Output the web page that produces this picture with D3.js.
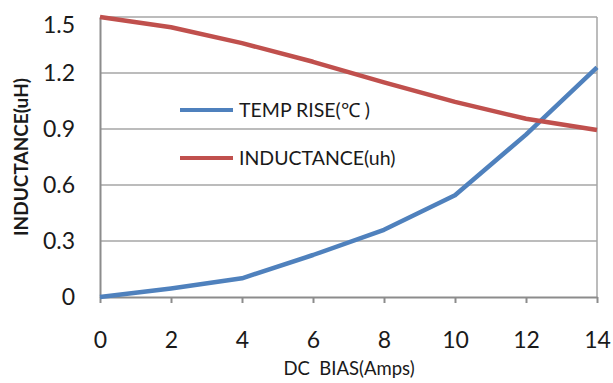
<!DOCTYPE html>
<html>
<head>
<meta charset="utf-8">
<script src="https://cdnjs.cloudflare.com/ajax/libs/d3/7.8.5/d3.min.js"></script>
<style>
  body { margin: 0; background: #fff; }
  text { font-family: Lato, "Open Sans", sans-serif; fill: #1a1a1a; }
</style>
</head>
<body>
<svg width="613" height="383"></svg>
<script>
// chart data
var dcBias = [0, 2, 4, 6, 8, 10, 12, 14];
var tempRise = [0, 0.046, 0.10, 0.225, 0.36, 0.545, 0.87, 1.23];
var inductance = [1.50, 1.445, 1.36, 1.26, 1.15, 1.045, 0.955, 0.895];
var yTicks = [0, 0.3, 0.6, 0.9, 1.2, 1.5];
var xTicks = [0, 2, 4, 6, 8, 10, 12, 14];

var series = [
    { name: "TEMP RISE(\u2103 )", values: tempRise, color: "#4F81BD" },
    { name: "INDUCTANCE(uh)", values: inductance, color: "#C0504D" }
];

var svg = d3.select("svg");

var x = d3.scaleLinear().domain([0, 14]).range([100, 597]);
var y = d3.scaleLinear().domain([0, 1.5]).range([297, 17]);

// horizontal gridlines
svg.append("g")
    .selectAll("line")
    .data(yTicks.slice(1))
    .enter().append("line")
    .attr("x1", x(0))
    .attr("x2", x(14))
    .attr("y1", d => y(d))
    .attr("y2", d => y(d))
    .attr("stroke", "#a6a6a6")
    .attr("stroke-width", 1.5);

// right border
svg.append("line")
    .attr("x1", x(14)).attr("x2", x(14))
    .attr("y1", y(1.5)).attr("y2", y(0))
    .attr("stroke", "#a6a6a6")
    .attr("stroke-width", 1.5);

// x axis
var xAxis = svg.append("g")
    .attr("transform", "translate(0," + y(0) + ")")
    .call(d3.axisBottom(x).tickValues(xTicks).tickSize(6).tickPadding(29).tickSizeOuter(0));
xAxis.select(".domain").attr("stroke", "#8c8c8c").attr("stroke-width", 2);
xAxis.selectAll(".tick line").attr("stroke", "#8c8c8c").attr("stroke-width", 2);
xAxis.selectAll("text").attr("font-size", 23).attr("font-family", "Lato, sans-serif").attr("fill", "#1a1a1a");

// y axis
var yAxis = svg.append("g")
    .attr("transform", "translate(" + x(0) + ",0)")
    .call(d3.axisLeft(y).tickValues(yTicks).tickFormat(d => d === 0 ? "0" : d3.format(".1f")(d)).tickSize(0).tickPadding(25));
yAxis.select(".domain").attr("stroke", "#8c8c8c").attr("stroke-width", 2);
yAxis.selectAll("text").attr("font-size", 23).attr("font-family", "Lato, sans-serif").attr("fill", "#1a1a1a");
// top label sits a little lower so it is not cut at the edge
yAxis.selectAll(".tick").filter(d => d === 1.5).select("text").attr("y", 8);

// lines
var line = d3.line()
    .x((d, i) => x(dcBias[i]))
    .y(d => y(d));

svg.append("g")
    .selectAll("path")
    .data(series)
    .enter().append("path")
    .attr("d", d => line(d.values))
    .attr("fill", "none")
    .attr("stroke", d => d.color)
    .attr("stroke-width", 4.5)
    .attr("stroke-linejoin", "round");

// legend
var legend = svg.append("g")
    .selectAll("g")
    .data(series)
    .enter().append("g")
    .attr("transform", (d, i) => "translate(180," + (110 + i * 48) + ")");

legend.append("line")
    .attr("x1", 0).attr("x2", 53)
    .attr("stroke", d => d.color)
    .attr("stroke-width", 4);

legend.append("text")
    .attr("x", 59)
    .attr("dy", "0.36em")
    .attr("font-size", 19.5)
    .text(d => d.name);

// axis titles
svg.append("text")
    .attr("x", 349)
    .attr("y", 375)
    .attr("text-anchor", "middle")
    .attr("font-size", 18.5)
    .text("DC\u00a0\u00a0BIAS(Amps)");

svg.append("text")
    .attr("transform", "translate(28,157) rotate(-90)")
    .attr("text-anchor", "middle")
    .attr("font-size", 19)
    .attr("font-weight", "bold")
    .text("INDUCTANCE(uH)");
</script>
</body>
</html>
